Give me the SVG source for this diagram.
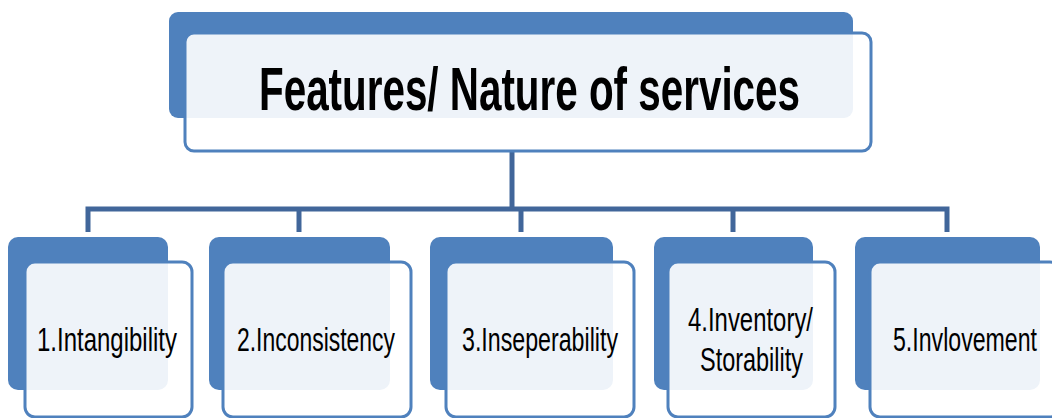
<svg xmlns="http://www.w3.org/2000/svg" width="1052" height="418" viewBox="0 0 1052 418">
<style>
.back{fill:#4F81BD}
.front{fill:#FFFFFF;fill-opacity:0.9;stroke:#4F81BD;stroke-width:3}
.conn{fill:none;stroke:#41669A;stroke-width:5}
text{font-family:"Liberation Sans Narrow","Liberation Sans",Arial,sans-serif;fill:#000}
.lbl{font-size:33px}
.title{font-size:61px;font-weight:bold}
</style>
<rect width="1052" height="418" fill="#FFFFFF"/>
<g id="connectors">
<path class="conn" d="M512,151 V209"/>
<path class="conn" d="M88,232 V209 H947 V232"/>
<path class="conn" d="M299,209 V232"/>
<path class="conn" d="M521,209 V232"/>
<path class="conn" d="M733,209 V232"/>
</g>
<g id="title">
<rect class="back" x="169" y="12" width="684" height="106" rx="9"/>
<rect class="front" x="185" y="33" width="686" height="118" rx="9"/>
<text class="title" x="259" y="110" textLength="541" lengthAdjust="spacingAndGlyphs">Features/ Nature of services</text>
</g>
<g id="n1">
<rect class="back" x="8" y="237" width="160" height="153" rx="10"/>
<rect class="front" x="25" y="262" width="167" height="155" rx="10"/>
<text class="lbl" x="37" y="351" textLength="140" lengthAdjust="spacingAndGlyphs">1.Intangibility</text>
</g>
<g id="n2">
<rect class="back" x="209" y="237" width="181" height="153" rx="10"/>
<rect class="front" x="223" y="262" width="188" height="155" rx="10"/>
<text class="lbl" x="237" y="351" textLength="158" lengthAdjust="spacingAndGlyphs">2.Inconsistency</text>
</g>
<g id="n3">
<rect class="back" x="430" y="237" width="183" height="153" rx="10"/>
<rect class="front" x="446" y="262" width="188" height="155" rx="10"/>
<text class="lbl" x="462" y="351" textLength="156" lengthAdjust="spacingAndGlyphs">3.Inseperability</text>
</g>
<g id="n4">
<rect class="back" x="654" y="237" width="159" height="153" rx="10"/>
<rect class="front" x="668" y="262" width="167" height="155" rx="10"/>
<text class="lbl" x="688" y="331" textLength="125" lengthAdjust="spacingAndGlyphs">4.Inventory/</text>
<text class="lbl" x="700" y="371" textLength="103" lengthAdjust="spacingAndGlyphs">Storability</text>
</g>
<g id="n5">
<rect class="back" x="855" y="237" width="185" height="153" rx="10"/>
<rect class="front" x="870" y="262" width="190" height="155" rx="10"/>
<text class="lbl" x="893" y="351" textLength="144" lengthAdjust="spacingAndGlyphs">5.Invlovement</text>
</g>
</svg>
